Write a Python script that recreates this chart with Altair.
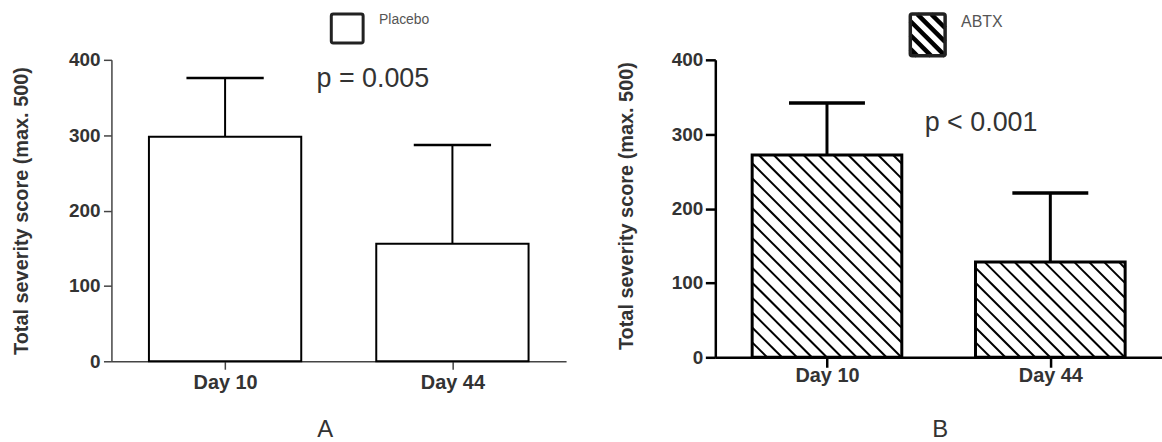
import altair as alt
import numpy as np
import pandas as pd

# ---- data -------------------------------------------------------------
days = ["Day 10", "Day 44"]
day_pos = [1, 2]

placebo_mean = [298, 156]
placebo_sd = [78, 131]

abtx_mean = [272, 128]
abtx_sd = [70, 93]

y_ticks = [0, 100, 200, 300, 400]
p_text_a = "p = 0.005"
p_text_b = "p < 0.001"

# ---- layout / style constants ----------------------------------------
FONT = "Liberation Sans"
Y_MAX = 400
X_DOMAIN = [0.5, 2.5]
W_A, H_A = 457, 303
W_B, H_B = 449, 299
BAR_HALF = 0.335
CAP_HALF = 0.17
HATCH_STEP = 15          # horizontal distance between hatch lines, px
Y_TITLE = "Total severity score (max. 500)"
LABEL_EXPR = "[" + ",".join(f"'{d}'" for d in days) + "][datum.value - 1]"


def bar_table(mean, sd):
    return pd.DataFrame({
        "day": days,
        "pos": day_pos,
        "lo": [p - BAR_HALF for p in day_pos],
        "hi": [p + BAR_HALF for p in day_pos],
        "cap_lo": [p - CAP_HALF for p in day_pos],
        "cap_hi": [p + CAP_HALF for p in day_pos],
        "mean": mean,
        "top": [m + s for m, s in zip(mean, sd)],
        "zero": [0, 0],
    })


def hatch_table(bars, width, height):
    """Diagonal '\\' hatch segments clipped to each bar, in data units."""
    sx = width / (X_DOMAIN[1] - X_DOMAIN[0])
    sy = height / Y_MAX
    rows = []
    for _, b in bars.iterrows():
        wpx = (b["hi"] - b["lo"]) * sx
        hpx = b["mean"] * sy
        for c in np.arange(-hpx, wpx, HATCH_STEP):
            v0, v1 = max(0.0, -c), min(hpx, wpx - c)
            if v1 <= v0:
                continue
            rows.append({
                "x": b["lo"] + (v0 + c) / sx, "y": b["mean"] - v0 / sy,
                "x2": b["lo"] + (v1 + c) / sx, "y2": b["mean"] - v1 / sy,
            })
    return pd.DataFrame(rows)


def legend_hatch(x0, y0, w, h, step):
    rows = []
    for c in np.arange(-h + step / 2, w, step):
        v0, v1 = max(0.0, -c), min(h, w - c)
        if v1 > v0:
            rows.append({"x": x0 + v0 + c, "y": y0 + v0, "x2": x0 + v1 + c, "y2": y0 + v1})
    return pd.DataFrame(rows)


def axes(axis_color, axis_width, tick_size, y_pad, x_pad, title_x, title_y):
    common = dict(
        grid=False, labelFont=FONT, labelFontWeight="bold", labelColor="#333",
        domainColor=axis_color, domainWidth=axis_width,
        tickColor=axis_color, tickWidth=axis_width, tickSize=tick_size,
    )
    x_axis = alt.Axis(values=day_pos, labelExpr=LABEL_EXPR, labelFontSize=20,
                      labelPadding=x_pad, title=None, **common)
    y_axis = alt.Axis(values=y_ticks, labelFontSize=19, labelPadding=y_pad,
                      title=Y_TITLE, titleFont=FONT, titleFontSize=20,
                      titleFontWeight="bold", titleColor="#333", titleAngle=270,
                      titleX=title_x, titleY=title_y, titleAlign="center",
                      titleBaseline="middle", **common)
    return x_axis, y_axis


def panel(mean, sd, width, height, hatched, axis_color, axis_width, tick_size,
          y_pad, x_pad, title_x, title_y, stroke_w, p_text, p_xy, letter,
          letter_xy, legend_box, legend_label, legend_label_xy, legend_size):
    bars = bar_table(mean, sd)
    x_axis, y_axis = axes(axis_color, axis_width, tick_size, y_pad, x_pad,
                          title_x, title_y)
    xs = alt.Scale(domain=X_DOMAIN, nice=False, zero=False)
    ys = alt.Scale(domain=[0, Y_MAX], nice=False)

    base = alt.Chart(bars)
    fill = base.mark_rect(fill="white").encode(
        x=alt.X("lo:Q", scale=xs, axis=x_axis), x2="hi",
        y=alt.Y("zero:Q", scale=ys, axis=y_axis), y2="mean",
    )
    layers = [fill]
    if hatched:
        hatch = alt.Chart(hatch_table(bars, width, height)).mark_rule(
            color="black", strokeWidth=2).encode(
            x=alt.X("x:Q", scale=xs), x2="x2", y=alt.Y("y:Q", scale=ys), y2="y2")
        layers.append(hatch)
    outline = base.mark_rect(fill=None, stroke="black", strokeWidth=stroke_w).encode(
        x=alt.X("lo:Q", scale=xs), x2="hi", y=alt.Y("zero:Q", scale=ys), y2="mean")
    stem = base.mark_rule(color="black", strokeWidth=stroke_w).encode(
        x=alt.X("pos:Q", scale=xs), y=alt.Y("mean:Q", scale=ys), y2="top")
    cap = base.mark_rule(color="black", strokeWidth=stroke_w + 0.5).encode(
        x=alt.X("cap_lo:Q", scale=xs), x2="cap_hi", y=alt.Y("top:Q", scale=ys))
    layers += [outline, stem, cap]

    note = alt.Chart(pd.DataFrame({"t": [p_text], "x": [p_xy[0]], "y": [p_xy[1]]})).mark_text(
        font=FONT, fontSize=27, color="#333", align="center", baseline="middle").encode(
        x=alt.X("x:Q", scale=xs), y=alt.Y("y:Q", scale=ys), text="t:N")
    tag = alt.Chart(pd.DataFrame({"t": [letter]})).mark_text(
        font=FONT, fontSize=24, color="#333", align="center", baseline="middle").encode(
        x=alt.value(letter_xy[0]), y=alt.value(letter_xy[1]), text="t:N")

    bx0, by0, bw, bh, bstroke = legend_box
    box_fill = alt.Chart(pd.DataFrame({"a": [0]})).mark_rect(
        fill="white", cornerRadius=2).encode(
        x=alt.value(bx0), x2=alt.value(bx0 + bw), y=alt.value(by0), y2=alt.value(by0 + bh))
    legend_layers = [box_fill]
    if hatched:
        lh = legend_hatch(bx0, by0, bw, bh, 14)
        legend_layers.append(alt.Chart(lh).mark_rule(color="black", strokeWidth=4.5).encode(
            x=alt.X("x:Q", scale=None), x2="x2", y=alt.Y("y:Q", scale=None), y2="y2"))
    legend_layers.append(alt.Chart(pd.DataFrame({"a": [0]})).mark_rect(
        fill=None, stroke="#222", strokeWidth=bstroke, cornerRadius=2).encode(
        x=alt.value(bx0), x2=alt.value(bx0 + bw), y=alt.value(by0), y2=alt.value(by0 + bh)))
    legend_text = alt.Chart(pd.DataFrame({"t": [legend_label]})).mark_text(
        font=FONT, fontSize=legend_size, color="#555", align="left", baseline="middle").encode(
        x=alt.value(legend_label_xy[0]), y=alt.value(legend_label_xy[1]), text="t:N")

    return alt.layer(*layers, note, tag, *legend_layers, legend_text).properties(
        width=width, height=height)


panel_a = panel(
    placebo_mean, placebo_sd, W_A, H_A, hatched=False,
    axis_color="#444", axis_width=1.5, tick_size=8, y_pad=3.5, x_pad=3,
    title_x=-90, title_y=H_A / 2, stroke_w=2,
    p_text=p_text_a, p_xy=(1.65, 374), letter="A", letter_xy=(215, 372),
    legend_box=(221, -46, 32, 29, 3), legend_label="Placebo",
    legend_label_xy=(269, -40), legend_size=14,
)

panel_b = panel(
    abtx_mean, abtx_sd, W_B, H_B, hatched=True,
    axis_color="black", axis_width=2.5, tick_size=10, y_pad=2.5, x_pad=-2,
    title_x=-89, title_y=H_B / 2 - 3, stroke_w=3,
    p_text=p_text_b, p_xy=(1.69, 315), letter="B", letter_xy=(226, 372),
    legend_box=(196, -46, 35, 42, 3.5), legend_label="ABTX",
    legend_label_xy=(247, -38), legend_size=16,
)

chart = alt.hconcat(panel_a, panel_b, spacing=150, bounds="flush").properties(
    padding={"left": 12, "top": 10, "right": 0, "bottom": 0},
    autosize=alt.AutoSizeParams(type="pad"),
    background="white",
).configure_view(stroke=None)

chart.save("out.html", embed_options={"renderer": "svg", "actions": False})
